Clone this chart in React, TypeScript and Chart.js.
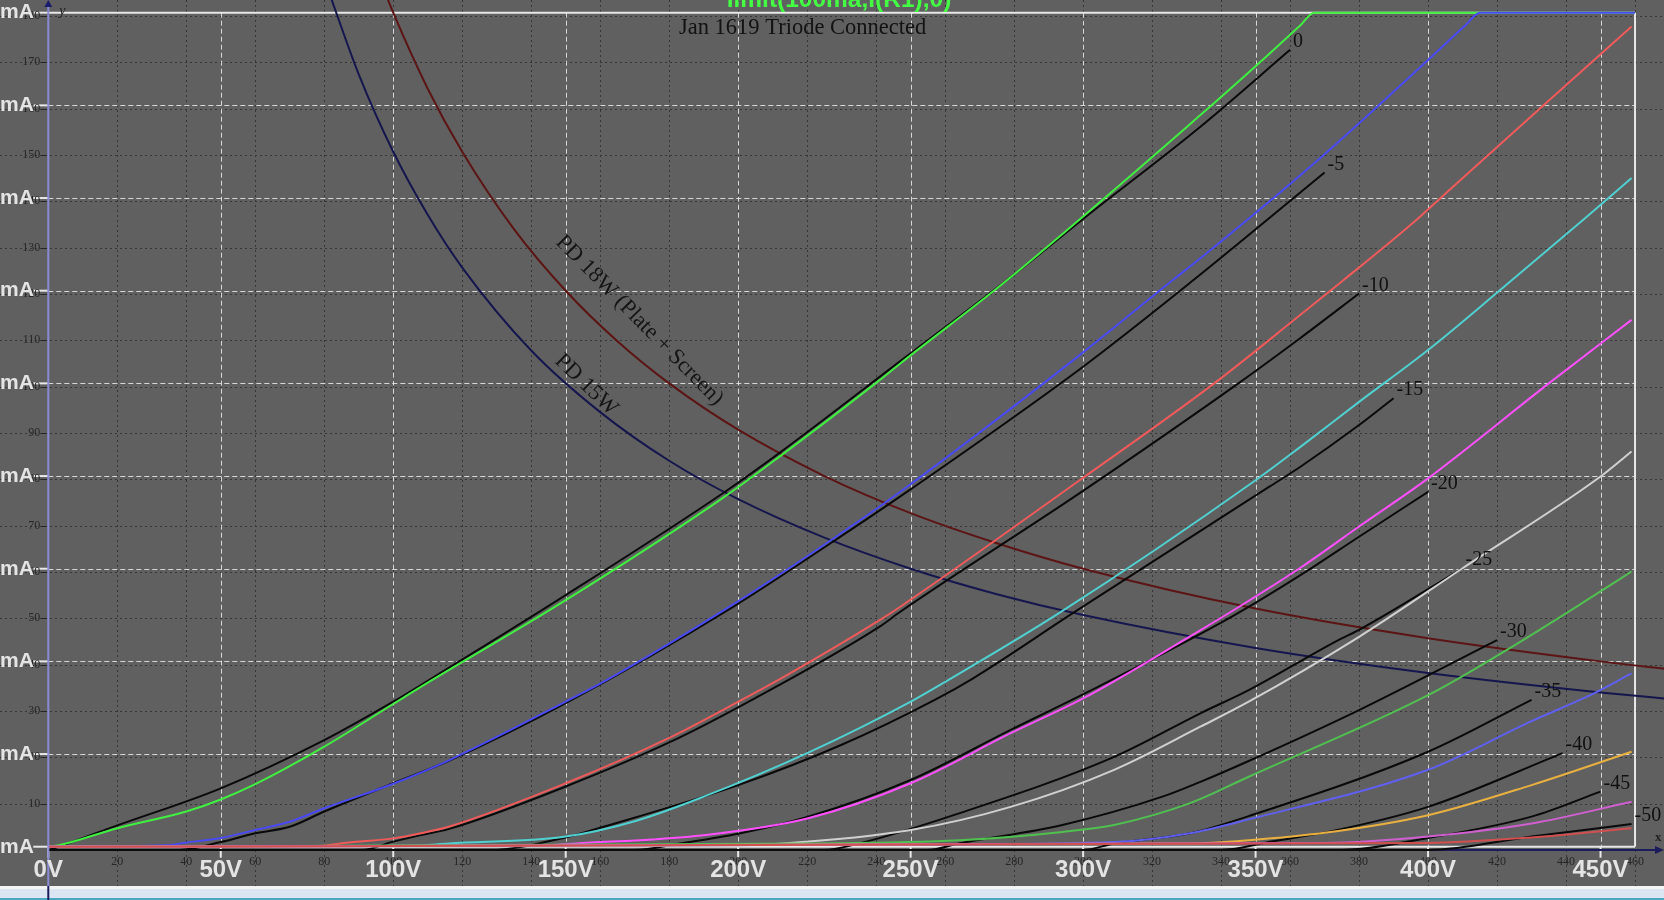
import { useEffect, useRef } from "react";
import { Chart, registerables } from "chart.js";

Chart.register(...registerables);

type Pt = [number, number];

// Grid voltage of each family member
const gridVolts: number[] = [0, -5, -10, -15, -20, -25, -30, -35, -40, -45, -50];

// Simulated traces: [plate volts, plate mA]
const sim0: Pt[] = [[0, 0], [3, 0.3], [20, 4.0], [40, 7.6], [50, 10.2], [60, 13.5], [80, 21.6], [100, 30.8], [108, 34.5], [150, 53.2], [196, 75.5], [212, 84.2], [241, 100.7], [247, 104.3], [278, 122.3], [334, 157.9], [352, 169.8], [363, 177.3], [367, 180], [368, 180], [460, 180]];
const simM5: Pt[] = [[0, 0], [34, 0.3], [40, 0.9], [50, 1.9], [60, 3.6], [70, 5.4], [80, 8.3], [100, 13.6], [116, 18.6], [151, 31.7], [162, 36], [199, 52.5], [227, 66.2], [247, 76.6], [299, 106.1], [326, 122.3], [334, 127], [367, 147.5], [400, 169.8], [411, 177.4], [415, 180], [416, 180], [460, 180]];
const simM10: Pt[] = [[0, 0], [78, 0.15], [87, 0.9], [100, 1.8], [108, 2.9], [116, 4.3], [150, 13.7], [180, 23.5], [201, 31.7], [214, 37], [241, 48.9], [247, 51.8], [299, 79.1], [338, 100], [363, 114.8], [375, 122.0], [396, 134.9], [403, 139.6], [433, 159.7], [459, 177]];
const simM15: Pt[] = [[0, 0], [105, 0.2], [116, 0.7], [150, 2.2], [170, 5.5], [190, 10.8], [220, 20.2], [251, 31.7], [261, 36], [293, 50.4], [350, 79.1], [363, 86.3], [380, 96], [400, 107.2], [421, 120.2], [445, 135.3], [459, 144.3]];
const simM20: Pt[] = [[0, 0], [140, 0.2], [153, 0.7], [190, 2.5], [220, 6.1], [250, 13.7], [279, 24.5], [300, 32.0], [331, 45.4], [347, 52.6], [363, 60.2], [380, 69.1], [400, 79.5], [435, 100], [459, 113.7]];
const simM25: Pt[] = [[0, 0], [190, 0.2], [213, 0.7], [250, 3.6], [279, 8.6], [309, 16.6], [334, 25.9], [348, 31.3], [380, 45.3], [410, 60.1], [450, 79.9], [459, 85.3]];
const simM30: Pt[] = [[0, 0], [220, 0.7], [264, 1.4], [294, 3.2], [309, 4.7], [331, 9.4], [348, 15.1], [400, 32.7], [422, 42.1], [446, 53.2], [459, 59.4]];
const simM35: Pt[] = [[0, 0], [264, 0.5], [309, 1.0], [331, 2.9], [348, 5.9], [400, 16.6], [430, 27.1], [447, 32.7], [459, 37.4]];
const simM40: Pt[] = [[0, 0], [331, 0.7], [348, 1.4], [370, 3.0], [400, 6.8], [430, 13.3], [459, 20.5]];
const simM45: Pt[] = [[0, 0], [370, 0.8], [400, 2.2], [430, 5.0], [459, 9.7]];
const simM50: Pt[] = [[0, 0], [400, 0.8], [430, 2.0], [459, 4.0]];

// Datasheet (black) traces: [plate volts, plate mA]
const sheet0: Pt[] = [[0, -0.7], [3, 0], [20, 4.6], [50, 12.6], [80, 23.0], [100, 31.3], [108, 34.9], [150, 54.3], [196, 76.5], [212, 85], [247, 104.8], [280, 123.5], [300, 135.5], [334, 155.4], [360, 172]];
const sheetM5: Pt[] = [[0, -0.7], [38, -0.7], [50, 1.0], [60, 2.9], [70, 4.3], [80, 7.6], [100, 13.7], [116, 18.5], [150, 31], [199, 52], [227, 65.6], [247, 75.6], [300, 103.6], [332, 122.3], [370, 145.5]];
const sheetM10: Pt[] = [[0, -0.7], [91, -0.7], [100, 1.1], [108, 2.5], [116, 3.8], [150, 13], [180, 22.5], [204, 31.7], [241, 47.5], [247, 50.7], [299, 76.3], [345, 100], [363, 109.8], [380, 119.4]];
const sheetM15: Pt[] = [[0, -0.7], [128, -0.7], [150, 2.0], [161, 4.3], [200, 13.3], [230, 22.0], [257, 31.7], [268, 36.3], [297, 50.4], [354, 77.7], [363, 82], [380, 91], [390, 96.8]];
const sheetM20: Pt[] = [[0, -0.7], [170, -0.7], [183, 0.7], [200, 2.8], [220, 6.4], [250, 14.4], [279, 25.2], [303, 34.0], [343, 49.6], [363, 58.6], [380, 66.9], [400, 76.6]];
const sheetM25: Pt[] = [[0, -0.7], [225, -0.7], [235, 0.7], [264, 7.2], [309, 19.4], [334, 28.8], [348, 33.8], [374, 44.6], [380, 46.8], [410, 60.1]];
const sheetM30: Pt[] = [[0, -0.7], [255, -0.7], [264, 0.7], [294, 4.7], [323, 10.8], [334, 14], [348, 18.5], [380, 29.5], [420, 44.6]];
const sheetM35: Pt[] = [[0, -0.7], [300, -0.7], [309, 0.7], [331, 2.9], [348, 6.6], [400, 20.5], [430, 31.7]];
const sheetM40: Pt[] = [[0, -0.7], [340, -0.7], [355, 1.2], [371, 3.2], [400, 8.6], [439, 20.2]];
const sheetM45: Pt[] = [[0, -0.7], [375, -0.7], [400, 1.9], [430, 6.5], [450, 11.9]];
const sheetM50: Pt[] = [[0, -0.7], [400, -0.7], [430, 2.2], [459, 4.9]];

// Plate dissipation limit curves: [plate volts, mA]
const pd15: Pt[] = [[81, 185.2], [90, 166.7], [100, 150], [110, 136.4], [120, 125], [140, 107.1], [160, 93.8], [180, 83.3], [200, 75], [225, 66.7], [250, 60], [275, 54.5], [300, 50], [350, 42.9], [400, 37.5], [450, 33.3], [470, 31.9]];
const pd18: Pt[] = [[97, 185.6], [100, 180], [110, 163.6], [120, 150], [135, 133.3], [150, 120], [165, 109.1], [180, 100], [200, 90], [225, 80], [250, 72], [275, 65.5], [300, 60], [350, 51.4], [400, 45], [450, 40], [470, 38.3]];

// Tick values
const voltTicks: number[] = [0, 50, 100, 150, 200, 250, 300, 350, 400, 450];
const mATicks: number[] = [0, 20, 40, 60, 80, 100, 120, 140, 160, 180];
const sheetVoltTicks: number[] = [20, 40, 60, 80, 100, 120, 140, 160, 180, 200, 220, 240, 260, 280, 300, 320, 340, 360, 380, 400, 420, 440, 460];
const sheetmATicks: number[] = [10, 20, 30, 40, 50, 60, 70, 80, 90, 100, 110, 120, 130, 140, 150, 160, 170, 180];

const SHEET_ZERO = -0.7;
const FRAME_V = 460;
const FRAME_MA = 180;

const simCurves = [sim0, simM5, simM10, simM15, simM20, simM25, simM30, simM35, simM40, simM45, simM50];
const sheetCurves = [sheet0, sheetM5, sheetM10, sheetM15, sheetM20, sheetM25, sheetM30, sheetM35, sheetM40, sheetM45, sheetM50];
const simColors = ["#40f040", "#4a4af5", "#f05a5a", "#50d0d0", "#ff50ff", "#d0d0d0", "#50c050", "#6060f0", "#e8b040", "#d060d0", "#d05050"];

const toXY = (pts: Pt[]) => pts.map(([x, y]) => ({ x, y }));

const SERIF = '"Liberation Serif", "Times New Roman", serif';
const SANS = '"Liberation Sans", Arial, sans-serif';

const scenePlugin = {
  id: "scene",
  beforeDraw(chart: any) {
    const { ctx, width, height } = chart;
    ctx.save();
    ctx.fillStyle = "#606060";
    ctx.fillRect(0, 0, width, height);
    ctx.restore();
  },
  beforeDatasetsDraw(chart: any) {
    const { ctx, width } = chart;
    const xs = chart.scales.x;
    const ys = chart.scales.y;
    const X = (v: number) => xs.getPixelForValue(v);
    const Y = (v: number) => ys.getPixelForValue(v);
    const line = (x1: number, y1: number, x2: number, y2: number) => {
      ctx.beginPath();
      ctx.moveTo(x1, y1);
      ctx.lineTo(x2, y2);
      ctx.stroke();
    };
    ctx.save();
    // datasheet dotted grid
    ctx.strokeStyle = "#363636";
    ctx.lineWidth = 1;
    ctx.setLineDash([2, 3]);
    for (const v of sheetVoltTicks) {
      const px = Math.round(X(v)) + 0.5;
      line(px, 0, px, 886);
    }
    for (const m of sheetmATicks) {
      const py = Math.round(Y(m + SHEET_ZERO)) + 0.5;
      line(0, py, width, py);
    }
    // simulator dashed grid
    ctx.strokeStyle = "rgba(228,228,228,0.9)";
    ctx.setLineDash([5, 3]);
    for (const v of voltTicks) {
      if (v === 0) continue;
      const px = Math.round(X(v)) + 0.5;
      line(px, Y(FRAME_MA), px, Y(0));
    }
    for (const m of mATicks) {
      if (m === 0 || m === FRAME_MA) continue;
      const py = Math.round(Y(m)) + 0.5;
      line(X(0), py, X(FRAME_V), py);
    }
    // frame
    ctx.setLineDash([]);
    ctx.strokeStyle = "#e8e8e8";
    ctx.lineWidth = 2;
    line(X(0), Y(FRAME_MA), X(FRAME_V), Y(FRAME_MA));
    line(X(FRAME_V), Y(FRAME_MA), X(FRAME_V), Y(0));
    line(X(0), Y(0), X(FRAME_V), Y(0));
    // ticks
    for (const v of voltTicks) {
      line(X(v), Y(0), X(v), Y(0) + 11);
    }
    for (const m of mATicks) {
      line(X(0) - 15, Y(m), X(0), Y(m));
    }
    // datasheet small y ticks
    ctx.strokeStyle = "#262626";
    ctx.lineWidth = 1;
    for (const m of sheetmATicks) {
      const py = Math.round(Y(m + SHEET_ZERO)) + 0.5;
      line(X(0) - 7, py, X(0) - 1, py);
    }
    // x axis (navy) with arrow
    ctx.strokeStyle = "#1c1c5c";
    ctx.lineWidth = 2;
    const ay = Y(SHEET_ZERO);
    line(X(0), ay, width - 4, ay);
    ctx.fillStyle = "#1c1c5c";
    ctx.beginPath();
    ctx.moveTo(width, ay);
    ctx.lineTo(width - 9, ay - 4);
    ctx.lineTo(width - 9, ay + 4);
    ctx.closePath();
    ctx.fill();
    ctx.restore();
  },
  afterDatasetsDraw(chart: any) {
    const { ctx, width, height } = chart;
    const xs = chart.scales.x;
    const ys = chart.scales.y;
    const X = (v: number) => xs.getPixelForValue(v);
    const Y = (v: number) => ys.getPixelForValue(v);
    ctx.save();

    // bottom window strip
    ctx.fillStyle = "#f4f4f4";
    ctx.fillRect(0, 886, width, 3);
    ctx.fillStyle = "#dbe6f2";
    ctx.fillRect(0, 889, width, 9);
    ctx.fillStyle = "#4aa8c0";
    ctx.fillRect(0, 898, width, 2);

    // y axis
    const ax = X(0);
    ctx.strokeStyle = "#8a8ad6";
    ctx.lineWidth = 2;
    ctx.beginPath();
    ctx.moveTo(ax, 4);
    ctx.lineTo(ax, 886);
    ctx.stroke();
    ctx.strokeStyle = "#1c1c5c";
    ctx.beginPath();
    ctx.moveTo(ax, 886);
    ctx.lineTo(ax, height);
    ctx.stroke();
    ctx.fillStyle = "#1c1c6c";
    ctx.beginPath();
    ctx.moveTo(ax, 0);
    ctx.lineTo(ax - 4, 7);
    ctx.lineTo(ax + 4, 7);
    ctx.closePath();
    ctx.fill();

    ctx.fillStyle = "#202020";
    ctx.font = `italic 14px ${SERIF}`;
    ctx.textAlign = "left";
    ctx.textBaseline = "middle";
    ctx.fillText("y", ax + 11, 11);
    ctx.font = `bold 13px ${SERIF}`;
    ctx.fillText("x", width - 9, 838);

    // datasheet small tick labels
    ctx.fillStyle = "#262626";
    ctx.font = `12px ${SERIF}`;
    ctx.textAlign = "right";
    ctx.textBaseline = "middle";
    for (const m of sheetmATicks) {
      ctx.fillText(String(m), ax - 8, Y(m + SHEET_ZERO));
    }
    ctx.textAlign = "center";
    for (const v of sheetVoltTicks) {
      ctx.fillText(String(v), X(v), 862);
    }

    // simulator axis labels
    ctx.fillStyle = "#e4e4e4";
    ctx.font = `bold 21px ${SANS}`;
    ctx.textAlign = "right";
    ctx.textBaseline = "middle";
    const mAw = ctx.measureText("mA").width;
    for (const m of mATicks) {
      ctx.fillText(`${m}mA`, mAw, Y(m));
    }
    ctx.textAlign = "center";
    ctx.font = `bold 24px ${SANS}`;
    for (const v of voltTicks) {
      ctx.fillText(`${v}V`, X(v), 870);
    }

    // curve labels at the end of each datasheet trace
    ctx.fillStyle = "#101010";
    ctx.font = `20px ${SERIF}`;
    ctx.textAlign = "left";
    ctx.textBaseline = "middle";
    sheetCurves.forEach((c, i) => {
      const [ex, ey] = c[c.length - 1];
      ctx.fillText(String(gridVolts[i]), X(ex) + 3, Y(ey) - 8);
    });

    // titles
    ctx.fillStyle = "#121212";
    ctx.font = `22.5px ${SERIF}`;
    ctx.textAlign = "left";
    ctx.textBaseline = "alphabetic";
    ctx.fillText("Jan 1619 Triode Connected", 679, 34);

    ctx.fillStyle = "#44ff44";
    ctx.font = `bold 24.5px ${SANS}`;
    ctx.textAlign = "center";
    ctx.fillText("limit(100ma,I(R1),0)", 839, 7);

    // PD labels
    ctx.fillStyle = "#151515";
    ctx.font = `22.5px ${SERIF}`;
    ctx.textAlign = "left";
    ctx.save();
    ctx.translate(555, 243);
    ctx.rotate((45.5 * Math.PI) / 180);
    ctx.fillText("PD 18W (Plate + Screen)", 0, 0);
    ctx.restore();
    ctx.save();
    ctx.translate(554, 362);
    ctx.rotate((44 * Math.PI) / 180);
    ctx.fillText("PD 15W", 0, 0);
    ctx.restore();

    ctx.restore();
  },
};

export default function App() {
  const ref = useRef<HTMLCanvasElement>(null);
  useEffect(() => {
    const canvas = ref.current;
    if (!canvas) return;
    const common = {
      pointRadius: 0,
      fill: false,
      borderWidth: 2,
      cubicInterpolationMode: "monotone" as const,
    };
    const datasets: any[] = [
      ...simCurves.map((c, i) => ({
        ...common,
        label: `sim ${gridVolts[i]}`,
        data: toXY(c),
        borderColor: simColors[i],
        order: 10 - i,
      })),
      ...sheetCurves.map((c, i) => ({
        ...common,
        label: `datasheet ${gridVolts[i]}`,
        data: toXY(c),
        borderColor: "#0a0a0a",
        order: 30 - i,
      })),
      { ...common, label: "PD 18W", data: toXY(pd18), borderColor: "#5c1414", order: 50 },
      { ...common, label: "PD 15W", data: toXY(pd15), borderColor: "#16164e", order: 51 },
    ];
    const chart = new Chart(canvas, {
      type: "line",
      data: { datasets },
      options: {
        responsive: false,
        animation: false,
        devicePixelRatio: 1,
        events: [],
        layout: { padding: 0 },
        plugins: { legend: { display: false }, tooltip: { enabled: false } },
        scales: {
          x: { type: "linear", min: -14.0, max: 468.4, display: false },
          y: { type: "linear", min: -11.5, max: 182.74, display: false },
        },
      },
      plugins: [scenePlugin],
    } as any);
    return () => chart.destroy();
  }, []);
  return (
    <div style={{ position: "fixed", left: 0, top: 0, width: 1664, height: 900, overflow: "hidden" }}>
      <canvas ref={ref} width={1664} height={900} style={{ display: "block" }} />
    </div>
  );
}
